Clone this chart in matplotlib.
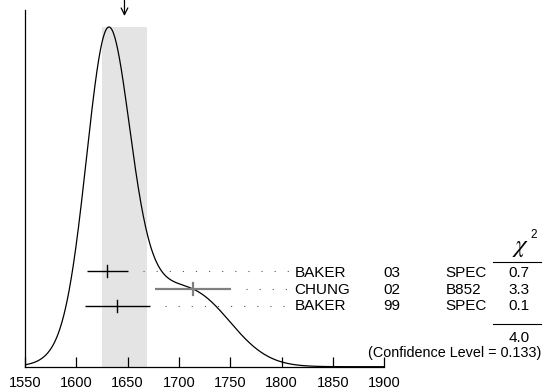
import numpy as np
import matplotlib
matplotlib.use('Agg')
import matplotlib.pyplot as plt

plt.rcParams['font.family'] = ['Liberation Sans', 'DejaVu Sans']
plt.rcParams['mathtext.fontset'] = 'stix'

# Measurements (MeV)
authors = ['BAKER', 'CHUNG', 'BAKER']
years = ['03', '02', '99']
techs = ['SPEC', 'B852', 'SPEC']
values = [1630, 1714, 1640]
errors = [20, 37, 32]
chi2_vals = [0.7, 3.3, 0.1]
chi2_total = 4.0
bar_colors = ['black', '#808080', 'black']
xticks = [1550, 1600, 1650, 1700, 1750, 1800, 1850, 1900]
conf_level = 0.133

vals = np.array(values, float)
errs = np.array(errors, float)
w = 1 / errs**2
mean = np.sum(w * vals) / np.sum(w)
scale = np.sqrt(chi2_total / (len(vals) - 1))
mean_err = scale / np.sqrt(np.sum(w))

W, H = 551, 391
fig = plt.figure(figsize=(W / 100, H / 100), dpi=100)

base_px = 366.7
peak_px = 27
ax = fig.add_axes([25 / W, (H - base_px) / H, (384.3 - 25) / W, base_px / H])
ytop = base_px / (base_px - peak_px)
ax.set_xlim(1550, 1900)
ax.set_ylim(0, ytop)


def py(p):
    # pixel row (from top) -> data y
    return (base_px - p) / (base_px - peak_px)


def fx(p):
    return p / W


def fy(p):
    return 1 - p / H


# ideogram curve
x = np.linspace(1550, 1900, 800)
curve = np.zeros_like(x)
for v, e in zip(vals, errs):
    curve += (1 / e) * np.exp(-0.5 * ((x - v) / e)**2) / e
curve /= curve.max()

ax.axvspan(mean - mean_err, mean + mean_err, ymin=0, ymax=1 / ytop,
           color='#e4e4e4', lw=0, zorder=0)
ax.plot(x, curve, color='black', lw=0.9, zorder=3)

# arrow at weighted mean
ax.annotate('', xy=(mean, py(16)), xytext=(mean, py(-2)),
            arrowprops=dict(arrowstyle='->', color='black', lw=0.9,
                            mutation_scale=12, shrinkA=0, shrinkB=0),
            annotation_clip=False)

# error bars and dotted leaders
row_px = [271, 288.7, 306]
px_per = (384.3 - 25) / 350
dot_end = 1550 + (291 - 25) / px_per
for v, e, c, rp in zip(vals, errs, bar_colors, row_px):
    yy = py(rp)
    lw = 1.6 if c != 'black' else 1.0
    ax.plot([v - e, v + e], [yy, yy], color=c, lw=lw, zorder=4,
            solid_capstyle='butt')
    ax.plot([v, v], [py(rp - 6), py(rp + 6)], color=c, lw=lw, zorder=4)
    start = v + e + 15 / px_per
    ax.plot([start, dot_end], [yy, yy], color='#555555', lw=0.8,
            dashes=(1, 10.8), zorder=2)

# axes styling
for s in ['top', 'right']:
    ax.spines[s].set_visible(False)
ax.spines['left'].set_bounds(0, py(10))
ax.spines['left'].set_linewidth(0.9)
ax.spines['bottom'].set_linewidth(0.9)
ax.set_yticks([])
ax.set_xticks(xticks)
ax.set_xticklabels([str(t) for t in xticks])
ax.tick_params(axis='x', direction='in', length=7.2, width=0.9, pad=7,
               labelsize=10.5)

# table text
fs = 11
base_rows = [277, 293.5, 309.7]
for a, yv, t, c2, b in zip(authors, years, techs, chi2_vals, base_rows):
    fig.text(fx(294.5), fy(b), a, fontsize=fs, va='baseline', ha='left')
    fig.text(fx(383), fy(b), yv, fontsize=fs, va='baseline', ha='left')
    fig.text(fx(445.7), fy(b), t, fontsize=fs, va='baseline', ha='left')
    fig.text(fx(518.7), fy(b), '%.1f' % c2, fontsize=fs, va='baseline',
             ha='center')

fig.text(fx(520.5), fy(252), r'$\chi$', fontsize=18, va='baseline',
         ha='center')
fig.text(fx(530), fy(238.3), '2', fontsize=8.5, va='baseline', ha='left')
fig.add_artist(plt.Line2D([fx(493), fx(540.7)], [fy(261.7), fy(261.7)],
                          color='black', lw=0.8))
fig.add_artist(plt.Line2D([fx(493), fx(540.7)], [fy(324), fy(324)],
                          color='black', lw=0.8))
fig.text(fx(518.7), fy(341.7), '%.1f' % chi2_total, fontsize=fs,
         va='baseline', ha='center')
fig.text(fx(541), fy(357.5), '(Confidence Level = %.3f)' % conf_level,
         fontsize=10.4, va='baseline', ha='right')

fig.savefig('out.png', dpi=100)
